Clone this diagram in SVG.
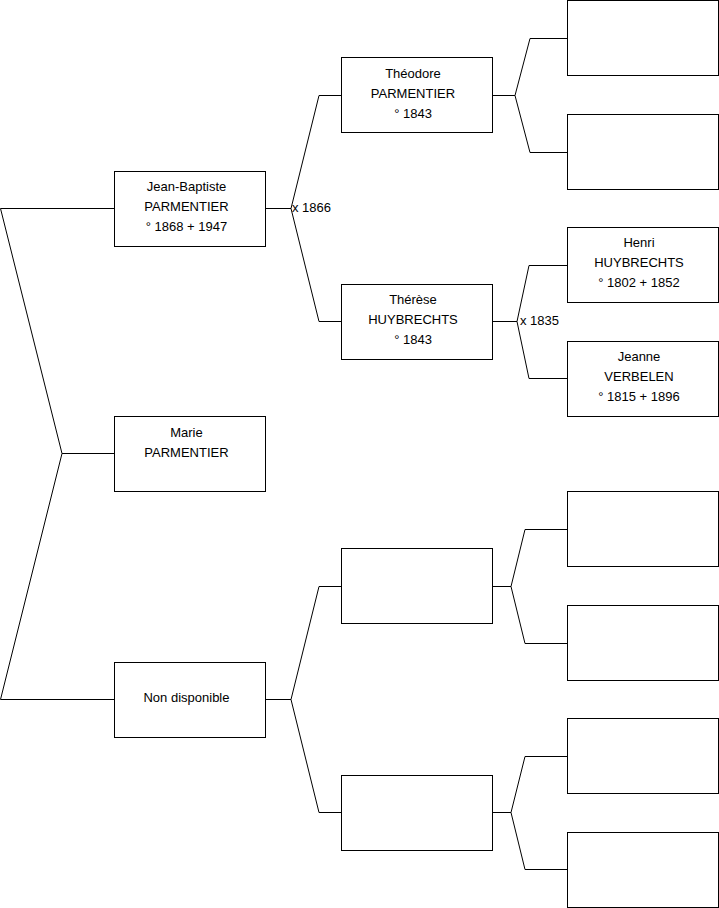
<svg xmlns="http://www.w3.org/2000/svg" width="719" height="908" viewBox="0 0 719 908">
<style>
.box{fill:#fff;stroke:#000;stroke-width:1}
.ln{fill:none;stroke:#000;stroke-width:1}
text{font-family:"Liberation Sans",Arial,sans-serif;font-size:13px;fill:#000}
.c{text-anchor:middle}
</style>
<rect width="719" height="908" fill="#fff"/>
<g id="connectors">
<polyline class="ln" points="114,208.5 0.5,208.5 62,453.5 0.5,699.5 114,699.5"/>
<line class="ln" x1="62" y1="453.5" x2="114" y2="453.5"/>
<polyline class="ln" points="265,208.5 291,208.5"/>
<polyline class="ln" points="341,95.5 319,95.5 291,208.5 319,321.5 341,321.5"/>
<polyline class="ln" points="492,95.5 515,95.5"/>
<polyline class="ln" points="567,38.5 530,38.5 515,95.5 530,152.5 567,152.5"/>
<polyline class="ln" points="492,321.5 517,321.5"/>
<polyline class="ln" points="567,265.5 529,265.5 517,321.5 529,378.5 567,378.5"/>
<polyline class="ln" points="265,699.5 291,699.5"/>
<polyline class="ln" points="341,586.5 319,586.5 291,699.5 319,812.5 341,812.5"/>
<polyline class="ln" points="492,586.5 511,586.5"/>
<polyline class="ln" points="567,529.5 525,529.5 511,586.5 525,643.5 567,643.5"/>
<polyline class="ln" points="492,812.5 511,812.5"/>
<polyline class="ln" points="567,756.5 525,756.5 511,812.5 525,869.5 567,869.5"/>
<text x="292" y="212">x 1866</text>
<text x="520" y="325">x 1835</text>
</g>
<g id="jean-baptiste">
<rect class="box" x="114.5" y="171.5" width="151" height="75"/>
<text class="c" x="186.5" y="191">Jean-Baptiste</text>
<text class="c" x="186.5" y="211">PARMENTIER</text>
<text class="c" x="186.5" y="231">° 1868 + 1947</text>
</g>
<g id="marie">
<rect class="box" x="114.5" y="416.5" width="151" height="75"/>
<text class="c" x="186.5" y="437">Marie</text>
<text class="c" x="186.5" y="457">PARMENTIER</text>
</g>
<g id="non-disponible">
<rect class="box" x="114.5" y="662.5" width="151" height="75"/>
<text class="c" x="186.5" y="702">Non disponible</text>
</g>
<g id="theodore">
<rect class="box" x="341.5" y="57.5" width="151" height="75"/>
<text class="c" x="413" y="78">Théodore</text>
<text class="c" x="413" y="98">PARMENTIER</text>
<text class="c" x="413" y="118">° 1843</text>
</g>
<g id="therese">
<rect class="box" x="341.5" y="284.5" width="151" height="75"/>
<text class="c" x="413" y="304">Thérèse</text>
<text class="c" x="413" y="324">HUYBRECHTS</text>
<text class="c" x="413" y="344">° 1843</text>
</g>
<g id="gen2-c"><rect class="box" x="341.5" y="548.5" width="151" height="75"/></g>
<g id="gen2-d"><rect class="box" x="341.5" y="775.5" width="151" height="75"/></g>
<g id="gen3-a"><rect class="box" x="567.5" y="0.5" width="151" height="75"/></g>
<g id="gen3-b"><rect class="box" x="567.5" y="114.5" width="151" height="75"/></g>
<g id="henri">
<rect class="box" x="567.5" y="227.5" width="151" height="75"/>
<text class="c" x="639" y="247">Henri</text>
<text class="c" x="639" y="267">HUYBRECHTS</text>
<text class="c" x="639" y="287">° 1802 + 1852</text>
</g>
<g id="jeanne">
<rect class="box" x="567.5" y="341.5" width="151" height="75"/>
<text class="c" x="639" y="361">Jeanne</text>
<text class="c" x="639" y="381">VERBELEN</text>
<text class="c" x="639" y="401">° 1815 + 1896</text>
</g>
<g id="gen3-e"><rect class="box" x="567.5" y="491.5" width="151" height="75"/></g>
<g id="gen3-f"><rect class="box" x="567.5" y="605.5" width="151" height="75"/></g>
<g id="gen3-g"><rect class="box" x="567.5" y="718.5" width="151" height="75"/></g>
<g id="gen3-h"><rect class="box" x="567.5" y="832.5" width="151" height="75"/></g>
</svg>
